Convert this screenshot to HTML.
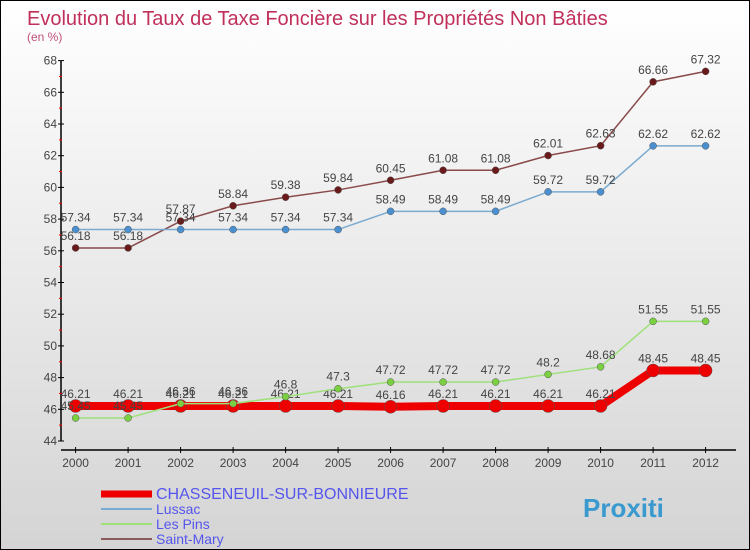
<!DOCTYPE html>
<html><head><meta charset="utf-8"><style>
body{margin:0;}
#wrap{width:748px;height:548px;border:1px solid #000;background:linear-gradient(#ffffff,#d4d4d4);position:relative;overflow:hidden;font-family:"Liberation Sans",sans-serif;}
</style></head><body>
<div id="wrap">
<svg id="chart" width="748" height="548" style="position:absolute;left:0;top:0">
<text x="26" y="24" font-size="20" fill="#c0305a">Evolution du Taux de Taxe Foncière sur les Propriétés Non Bâties</text>
<text x="26" y="40" font-size="12" fill="#c0507a">(en %)</text>
</svg>
</div>
<script>
const years=[2000,2001,2002,2003,2004,2005,2006,2007,2008,2009,2010,2011,2012];
const chasseneuil=[46.21,46.21,46.21,46.21,46.21,46.21,46.16,46.21,46.21,46.21,46.21,48.45,48.45];
const lussac=[57.34,57.34,57.34,57.34,57.34,57.34,58.49,58.49,58.49,59.72,59.72,62.62,62.62];
const lesPins=[45.45,45.45,46.36,46.36,46.8,47.3,47.72,47.72,47.72,48.2,48.68,51.55,51.55];
const saintMary=[56.18,56.18,57.87,58.84,59.38,59.84,60.45,61.08,61.08,62.01,62.63,66.66,67.32];
const yTicks=[44,46,48,50,52,54,56,58,60,62,64,66,68];
const NS='http://www.w3.org/2000/svg';
const svg=document.getElementById('chart');
const X=i=>74.6+i*52.5;
const Y=v=>440-(v-44)*15.85;
function el(t,a){const e=document.createElementNS(NS,t);for(const k in a)e.setAttribute(k,a[k]);svg.appendChild(e);return e;}
let a=el('line',{x1:60,y1:Y(44),x2:60,y2:Y(68),stroke:'#000','stroke-width':1.5});


a=el('line',{x1:60,y1:449,x2:735,y2:449,stroke:'#000','stroke-width':1.5});


yTicks.forEach(v=>{
 el('line',{x1:57,y1:Y(v),x2:63,y2:Y(v),stroke:'#000'});
 if(v<68) el('line',{x1:58,y1:Y(v+1),x2:61,y2:Y(v+1),stroke:'#f00'});
 const t=el('text',{x:56,y:Y(v)+4,'text-anchor':'end','font-size':12,fill:'#444'});
 t.textContent=v;
 
 
});
years.forEach((yr,i)=>{
 el('line',{x1:X(i),y1:446,x2:X(i),y2:452,stroke:'#000'});
 const t=el('text',{x:X(i),y:466,'text-anchor':'middle','font-size':12,fill:'#444'});
 t.textContent=yr;
 
 
});
function series(vals,color,w,r,dot,name){
 const p=el('polyline',{points:vals.map((v,i)=>X(i)+','+Y(v)).join(' '),fill:'none',stroke:color,'stroke-width':w});
 
 
 vals.forEach((v,i)=>{
  const c=el('circle',{cx:X(i),cy:Y(v),r:r,fill:dot,stroke:'#555','stroke-width':0.5});
  
  
  const t=el('text',{x:X(i),y:Y(v)-8,'text-anchor':'middle','font-size':12,fill:'#444'});
  t.textContent=v;
  
  
 });
}
series(saintMary,'#8a4a4a',1.5,3.5,'#6a1a1a','saint-mary');
series(lussac,'#7aaad0',1.5,3.5,'#4a90d0','lussac');
series(chasseneuil,'#ee0000',8,6.5,'#ee0000','chasseneuil');
series(lesPins,'#9ee07a',1.5,3.5,'#7ad040','les-pins');
const leg=[['CHASSENEUIL-SUR-BONNIEURE','#ee0000',7,16],['Lussac','#7aaad0',2,14],['Les Pins','#9ee07a',2,14],['Saint-Mary','#8a5a5a',2,14]];
const ly=[498,513,528,543];
leg.forEach((l,i)=>{
 const g=el('line',{x1:100,y1:ly[i]-5,x2:151,y2:ly[i]-5,stroke:l[1],'stroke-width':l[2]});
 
 
 const t=el('text',{x:155,y:ly[i],'font-size':l[3],fill:'#5555ee'});
 t.textContent=l[0];
 
 
});
const logo=el('text',{x:582,y:516,'font-size':26,'font-weight':'bold',fill:'#3a9ad0'});
logo.textContent='Proxiti';


</script>
</body></html>
